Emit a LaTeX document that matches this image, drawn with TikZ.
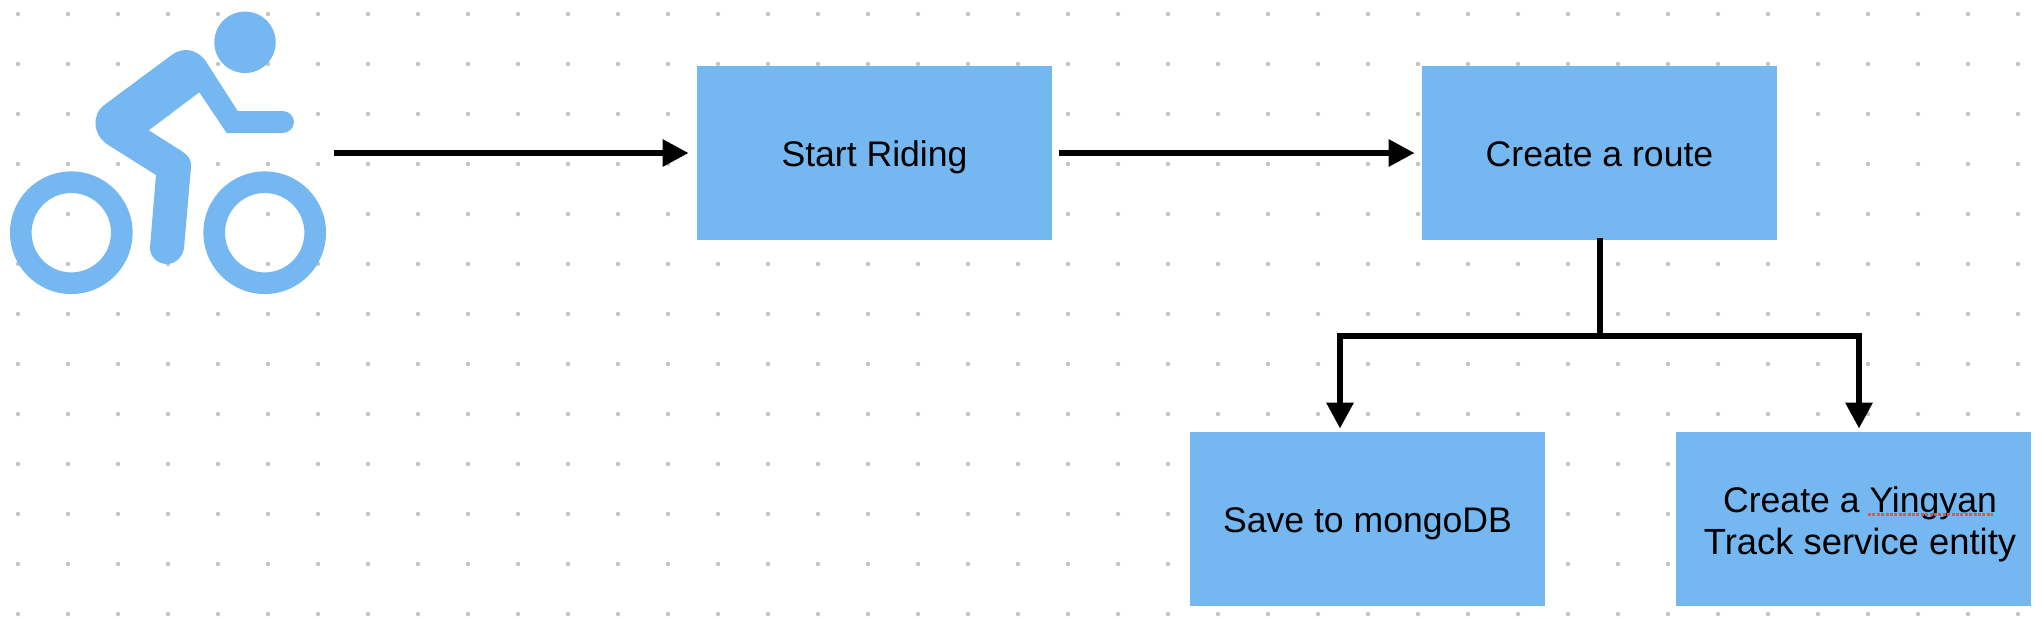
\documentclass[tikz,border=0pt]{standalone}
\usepackage{fontspec}
\setmainfont{Liberation Sans}
\usetikzlibrary{arrows.meta}
\definecolor{boxblue}{HTML}{75B7F0}
\definecolor{dotgrey}{HTML}{C4C4C4}
\definecolor{squiggle}{HTML}{E2573B}
\tikzset{
  stepbox/.style={rectangle,fill=boxblue,draw=none,inner sep=0pt,minimum width=177.5pt,minimum height=87pt,align=center,font=\fontsize{17.8}{21}\selectfont},
  oneline/.style={text height=15pt,text depth=2pt},
  twolines/.style={text height=39pt,text depth=3.3pt},
  flow/.style={line width=3pt,-{Triangle[length=13pt,width=13pt]}},
  flowplain/.style={line width=3pt},
  griddot/.style={fill=dotgrey,draw=none},
  icon/.style={fill=boxblue,draw=none}
}
\begin{document}
\begin{tikzpicture}[x=0.5pt,y=-0.5pt]
\useasboundingbox (0,0) rectangle (2044,618);
\fill[white] (0,0) rectangle (2044,618);
% dot grid
\foreach \gx in {18,68,...,2018}
  \foreach \gy in {14,64,...,614}
    \fill[griddot] (\gx,\gy) circle[radius=1.1pt];
% cyclist icon
\fill[icon] (245,42.3) circle[radius=15.35pt];
\fill[icon,even odd rule] (71.3,232.7) circle[radius=30.65pt] circle[radius=19.85pt];
\fill[icon,even odd rule] (264.7,232.7) circle[radius=30.65pt] circle[radius=19.85pt];
\fill[icon] (237.7,111) -- (282.7,111)
  .. controls (288.7,111) and (294,116) .. (294,122)
  .. controls (294,128) and (288.7,133) .. (282.7,133)
  -- (226.7,133) -- (199.3,92.3) -- (148.7,130.3) -- (182.7,151.7)
  .. controls (188.7,155.5) and (191.7,161) .. (191,167)
  -- (184,248)
  .. controls (183,256) and (176,264) .. (167,264)
  .. controls (157,264) and (149.5,256) .. (150,247)
  -- (156,175) -- (108.3,145)
  .. controls (93,135.5) and (91,115) .. (104.3,105)
  -- (171.7,55)
  .. controls (184,46) and (197,50) .. (205,60)
  -- cycle;
% boxes
\node[stepbox,oneline] (start) at (874.5,153) {Start Riding};
\node[stepbox,oneline] (route) at (1599.5,153) {Create a route};
\node[stepbox,oneline] (save) at (1367.5,519) {Save to mongoDB};
\node[stepbox,twolines] (track) at (1853.5,519) {\hspace*{6.5pt}Create a Yingyan\\\hspace*{6.5pt}\fontsize{18.2}{21}\selectfont Track service entity};
% spell-check underline
\coordinate (sqa) at (1868,514.7);
\coordinate (sqb) at (1993,514.7);
\draw[squiggle,line width=1.3pt,dash pattern=on 1.5pt off 0.7pt] (sqa) -- (sqb);
% connectors
\coordinate (rider) at (334,153);
\coordinate (fork) at (1599.5,336);
\draw[flow,shorten >=4pt] (rider) -- (start.west);
\draw[flow,shorten <=3.5pt,shorten >=3.5pt] (start.east) -- (route.west);
\draw[flowplain,shorten <=-1pt] (route.south) -- (fork);
\draw[flow,shorten >=1.5pt] (fork) -| ([xshift=-13.75pt]save.north);
\draw[flow,shorten >=1.5pt] (fork) -| ([xshift=2.75pt]track.north);
\end{tikzpicture}
\end{document}
